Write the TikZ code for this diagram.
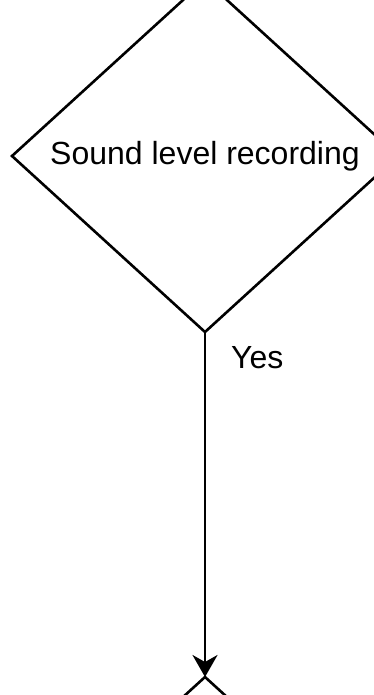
\documentclass[tikz,border=0pt]{standalone}
\usepackage{fontspec}
\setmainfont{Liberation Sans}
\usetikzlibrary{arrows.meta,positioning,shapes.geometric}
\tikzset{
  decide/.style={draw=black,shape=diamond,line width=2.6pt,inner sep=0pt,outer sep=0pt,
    minimum width=386pt,minimum height=352pt,font=\fontsize{32}{38}\selectfont},
  flow/.style={-{Stealth[length=22pt,width=25pt,inset=7pt]},line width=2.6pt,draw=black},
  lbl/.style={font=\fontsize{32}{38}\selectfont,inner sep=0pt}
}
\begin{document}
\begin{tikzpicture}[x=1pt,y=-1pt]
  \clip (0,0) rectangle (374,695);
  \fill[white] (0,0) rectangle (374,695);
  \node[decide] (rec) at (205,156) {Sound level recording};
  \node[decide] (next) at (205,853) {};
  \draw[flow] (rec.south) -- (next.north);
  \node[lbl,anchor=west] (yes) at (231,358) {Yes};
\end{tikzpicture}
\end{document}
